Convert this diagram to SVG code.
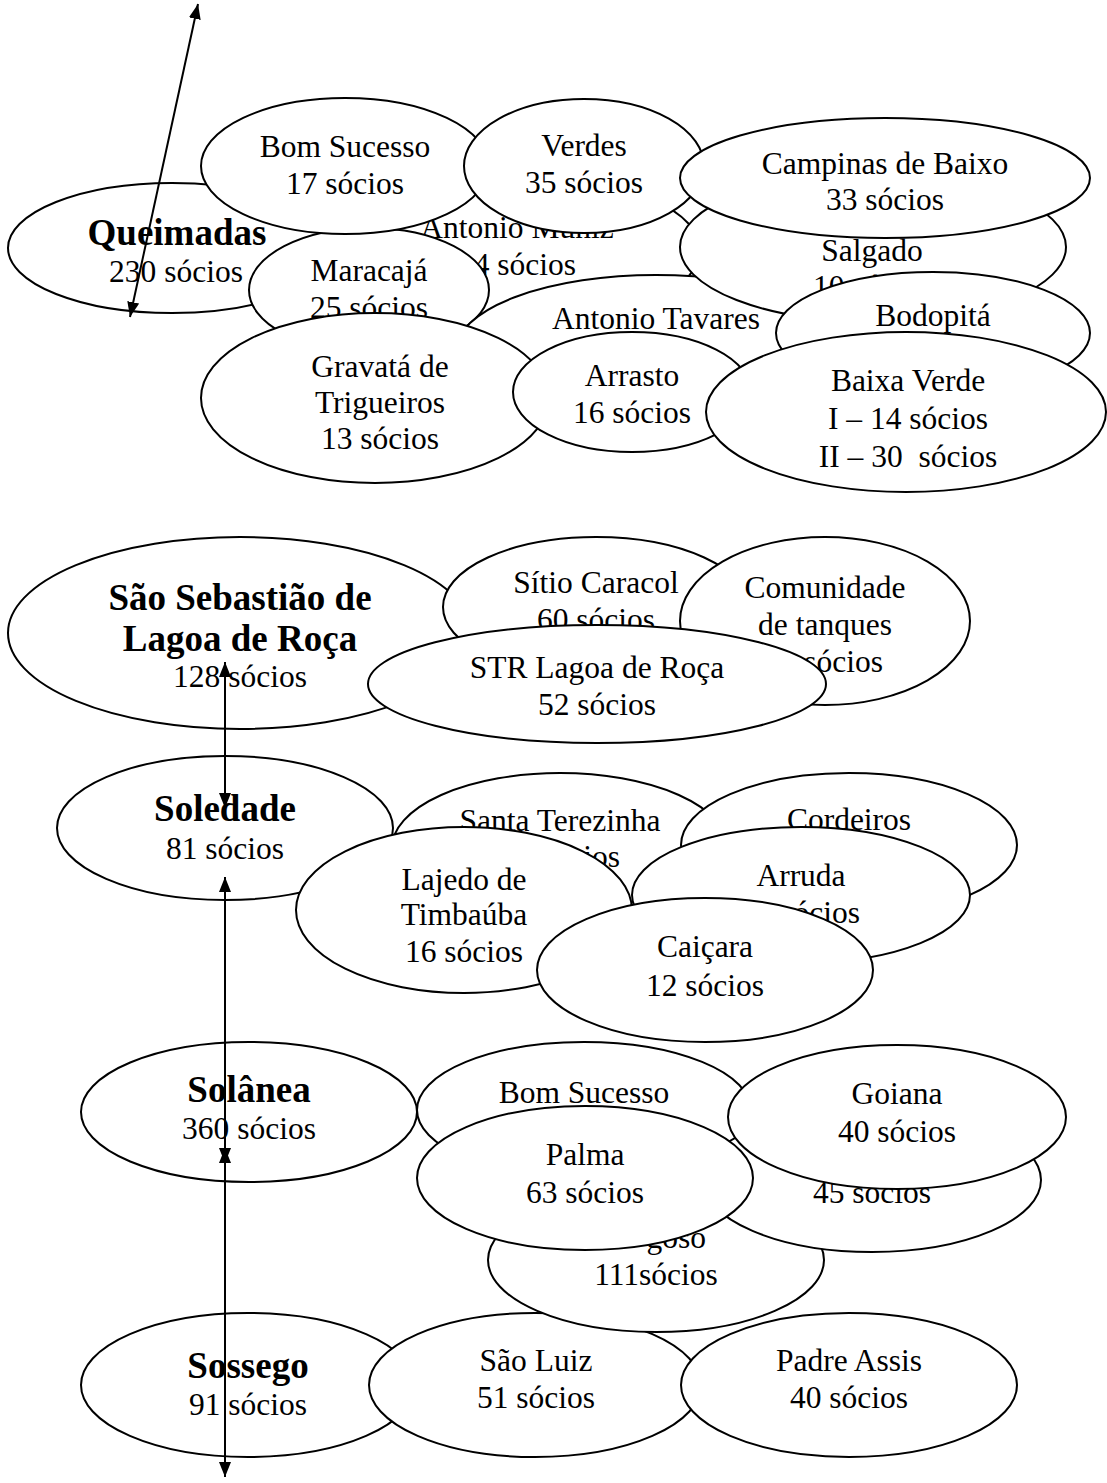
<svg xmlns="http://www.w3.org/2000/svg" width="1107" height="1483" viewBox="0 0 1107 1483">
<style>
ellipse{fill:#fff;stroke:#000;stroke-width:2}
text{font-family:"Liberation Serif","Times New Roman",serif;font-size:31.5px;text-anchor:middle;fill:#000}
.b{font-weight:bold;font-size:37px}
.e{text-anchor:end}
.c line{stroke:#000;stroke-width:2;marker-start:url(#ah);marker-end:url(#ah)}
</style>
<defs>
<marker id="ah" viewBox="0 0 15 12" markerWidth="15" markerHeight="12" refX="15" refY="6" orient="auto-start-reverse" markerUnits="userSpaceOnUse"><path d="M0,0 L15,6 L0,12 z" fill="#000"/></marker>
</defs>
<rect width="1107" height="1483" fill="#fff"/>

<g id="queimadas"><ellipse cx="172" cy="248" rx="164" ry="65"/><text class="b" x="177" y="245">Queimadas</text><text x="176" y="282">230 sócios</text></g>
<g id="antonio-muniz"><ellipse cx="535" cy="250" rx="165" ry="72"/><text x="517" y="238">Antonio Muniz</text><text x="517" y="275">14 sócios</text></g>
<g id="maracaja"><ellipse cx="369" cy="290" rx="120" ry="62"/><text x="369" y="281">Maracajá</text><text x="369" y="318">25 sócios</text></g>
<g id="bom-sucesso-1"><ellipse cx="345" cy="166" rx="144" ry="68"/><text x="345" y="157">Bom Sucesso</text><text x="345" y="194">17 sócios</text></g>
<g id="verdes"><ellipse cx="584" cy="166" rx="120" ry="67"/><text x="584" y="156">Verdes</text><text x="584" y="193">35 sócios</text></g>
<g id="antonio-tavares"><ellipse cx="656" cy="351" rx="200" ry="76"/><text x="656" y="329">Antonio Tavares</text></g>
<g id="salgado"><ellipse cx="873" cy="247" rx="193" ry="75"/><text x="872" y="261">Salgado</text><text x="872" y="297">10 sócios</text></g>
<g id="campinas"><ellipse cx="885" cy="178" rx="205" ry="60"/><text x="885" y="174">Campinas de Baixo</text><text x="885" y="210">33 sócios</text></g>
<g id="gravata"><ellipse cx="375" cy="398" rx="174" ry="85"/><text x="380" y="377">Gravatá de</text><text x="380" y="413">Trigueiros</text><text x="380" y="449">13 sócios</text></g>
<g id="arrasto"><ellipse cx="632" cy="392" rx="119" ry="60"/><text x="632" y="386">Arrasto</text><text x="632" y="423">16 sócios</text></g>
<g id="bodopita"><ellipse cx="933" cy="333" rx="157" ry="61"/><text x="933" y="326">Bodopitá</text></g>
<g id="baixa-verde"><ellipse cx="906" cy="412" rx="200" ry="80"/><text x="908" y="391">Baixa Verde</text><text x="908" y="429">I – 14 sócios</text><text x="908" y="467" xml:space="preserve">II – 30  sócios</text></g>

<g id="sao-sebastiao"><ellipse cx="240" cy="633" rx="232" ry="96"/><text class="b" x="240" y="610">São Sebastião de</text><text class="b" x="240" y="651">Lagoa de Roça</text><text x="240" y="687">128 sócios</text></g>
<g id="sitio-caracol"><ellipse cx="596" cy="607" rx="153" ry="70"/><text x="596" y="593">Sítio Caracol</text><text x="596" y="630">60 sócios</text></g>
<g id="comunidade"><ellipse cx="825" cy="621" rx="145" ry="84"/><text x="825" y="598">Comunidade</text><text x="825" y="635">de tanques</text><text class="e" x="883" y="672">sócios</text></g>
<g id="str"><ellipse cx="597" cy="684" rx="229" ry="59"/><text x="597" y="678">STR Lagoa de Roça</text><text x="597" y="715">52 sócios</text></g>

<g id="soledade"><ellipse cx="225" cy="828" rx="168" ry="72"/><text class="b" x="225" y="821">Soledade</text><text x="225" y="859">81 sócios</text></g>
<g id="santa-terezinha"><ellipse cx="560" cy="848" rx="168" ry="75"/><text x="560" y="831">Santa Terezinha</text><text class="e" x="620" y="867">sócios</text></g>
<g id="cordeiros"><ellipse cx="849" cy="845" rx="168" ry="72"/><text x="849" y="830">Cordeiros</text></g>
<g id="lajedo"><ellipse cx="464" cy="910" rx="168" ry="83"/><text x="464" y="890">Lajedo de</text><text x="464" y="925">Timbaúba</text><text x="464" y="962">16 sócios</text></g>
<g id="arruda"><ellipse cx="801" cy="895" rx="169" ry="68"/><text x="801" y="886">Arruda</text><text class="e" x="860" y="923">sócios</text></g>
<g id="caicara"><ellipse cx="705" cy="970" rx="168" ry="72"/><text x="705" y="957">Caiçara</text><text x="705" y="996">12 sócios</text></g>

<g id="sossego"><ellipse cx="248" cy="1385" rx="167" ry="72"/><text class="b" x="248" y="1378">Sossego</text><text x="248" y="1415">91 sócios</text></g>
<g id="sao-luiz"><ellipse cx="535" cy="1385" rx="166" ry="72"/><text x="536" y="1371">São Luiz</text><text x="536" y="1408">51 sócios</text></g>
<g id="padre-assis"><ellipse cx="849" cy="1385" rx="168" ry="72"/><text x="849" y="1371">Padre Assis</text><text x="849" y="1408">40 sócios</text></g>

<g id="solanea"><ellipse cx="249" cy="1112" rx="168" ry="70"/><text class="b" x="249" y="1102">Solânea</text><text x="249" y="1139">360 sócios</text></g>
<g id="bom-sucesso-2"><ellipse cx="584" cy="1110" rx="167" ry="68"/><text x="584" y="1103">Bom Sucesso</text></g>
<g id="goso"><ellipse cx="656" cy="1260" rx="168" ry="72"/><text class="e" x="706" y="1248">goso</text><text x="656" y="1285">111sócios</text></g>
<g id="n45"><ellipse cx="872" cy="1180" rx="169" ry="72"/><text x="872" y="1203">45 sócios</text></g>
<g id="goiana"><ellipse cx="897" cy="1117" rx="169" ry="72"/><text x="897" y="1104">Goiana</text><text x="897" y="1142">40 sócios</text></g>
<g id="palma"><ellipse cx="585" cy="1178" rx="168" ry="72"/><text x="585" y="1165">Palma</text><text x="585" y="1203">63 sócios</text></g>

<g id="connectors" class="c">
<line x1="130" y1="317" x2="198" y2="4"/>
<line x1="225" y1="662" x2="225" y2="808"/>
<line x1="225" y1="877" x2="225" y2="1163"/>
<line x1="225" y1="1148" x2="225" y2="1477"/>
</g>
</svg>
